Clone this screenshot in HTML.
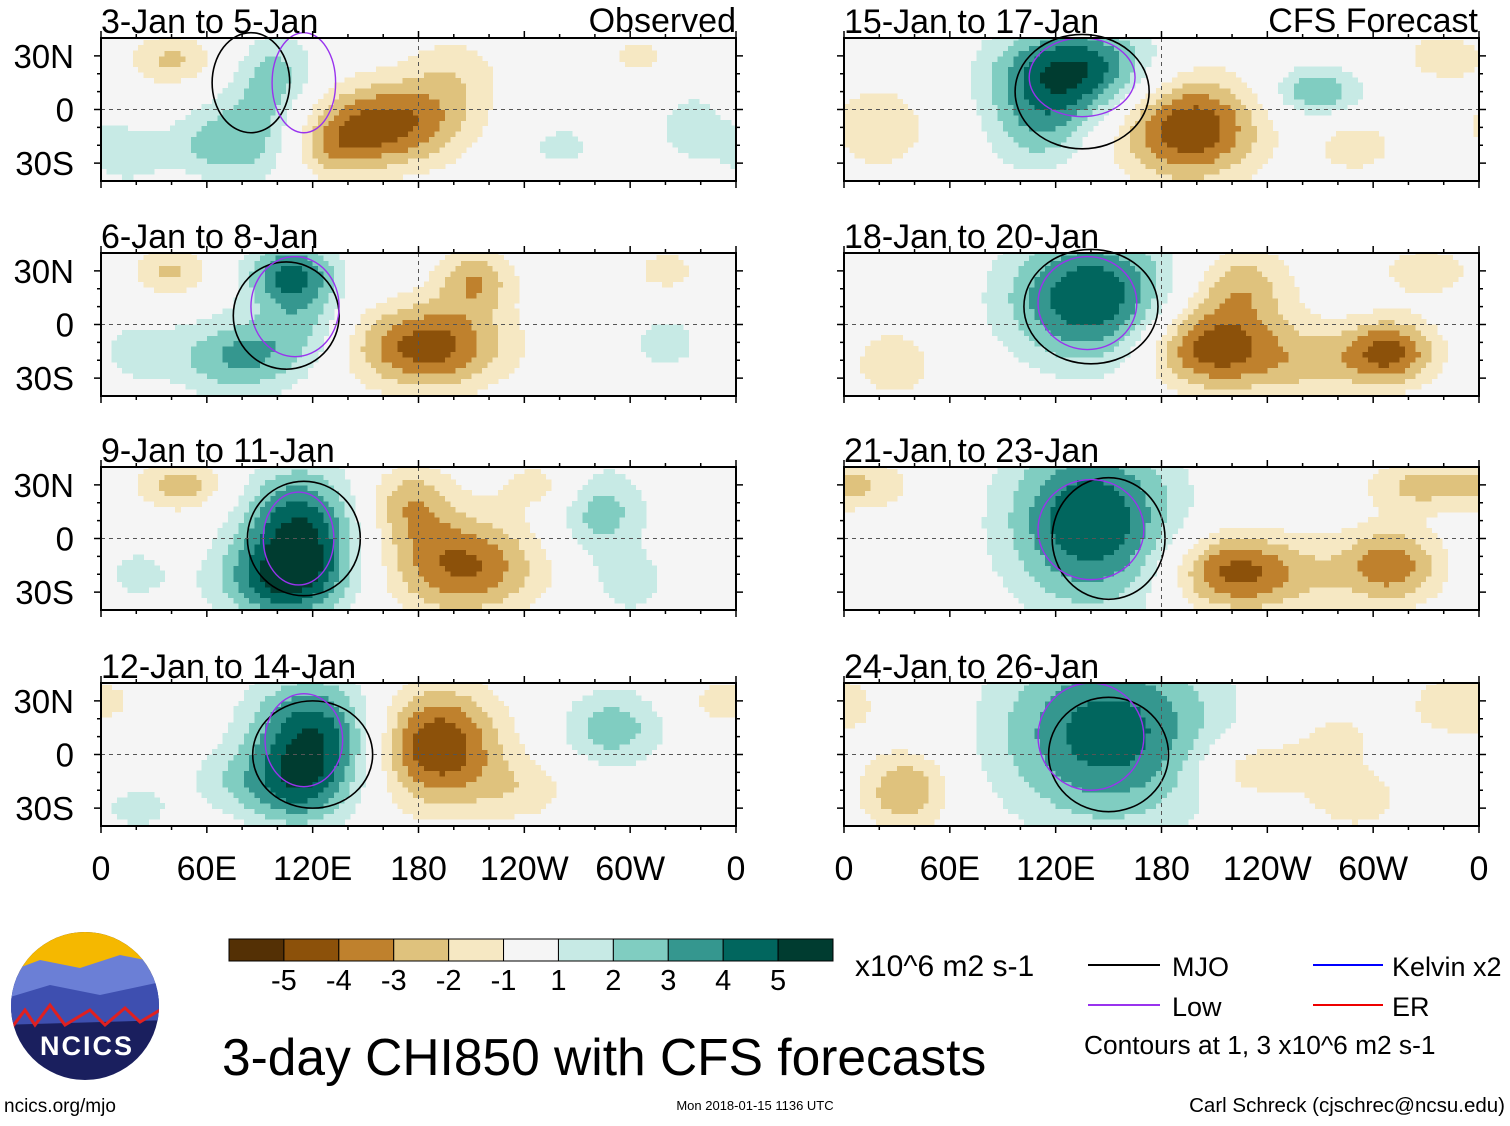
<!DOCTYPE html>
<html><head><meta charset="utf-8"><style>
body{margin:0;background:#fff;width:1510px;height:1121px;overflow:hidden;font-family:"Liberation Sans",sans-serif}
svg text{font-family:"Liberation Sans",sans-serif}
</style></head><body>
<svg id="chart" width="1510" height="1121" viewBox="0 0 1510 1121" xmlns="http://www.w3.org/2000/svg"></svg>
<script>
const panelTitles=["3-Jan to 5-Jan","6-Jan to 8-Jan","9-Jan to 11-Jan","12-Jan to 14-Jan","15-Jan to 17-Jan","18-Jan to 20-Jan","21-Jan to 23-Jan","24-Jan to 26-Jan"];
// blobs: [lonE, lat, amplitude, lonRadius, latRadius]
const blobs0=[[162,-8,-4.4,24,13],[130,-22,-1.8,14,10],[88,-12,2.4,16,16],[100,22,2,12,12],[40,28,-2.2,14,8],[60,-20,1.6,14,10],[15,-25,1.5,12,10],[200,20,-1.5,16,12],[335,-10,1.4,14,14],[305,30,-1.3,12,8],[260,-20,1.2,16,10]];
const blobs1=[[108,28,4.2,14,10],[78,-18,3.2,20,12],[185,-12,-4.6,24,13],[212,25,-2.8,12,10],[40,30,-2.2,12,8],[115,0,1.8,14,12],[320,-10,1.5,12,10],[320,30,-1.4,12,8],[20,-15,1.4,12,10]];
const blobs2=[[112,2,5.2,18,20],[100,-25,3,20,12],[205,-15,-4.2,24,15],[175,20,-2.6,14,12],[283,15,2.6,14,14],[45,30,-2.6,14,8],[300,-25,1.6,12,10],[250,30,-1.5,14,8],[20,-20,1.2,14,12]];
const blobs3=[[120,10,5,20,18],[190,5,-5,20,18],[290,15,2.6,16,12],[110,-20,2.8,16,12],[355,30,-1.6,14,8],[20,-30,1.4,12,8],[240,-20,-1.4,16,10],[70,-15,1.2,14,10]];
const blobs4=[[130,22,5.2,24,14],[195,-10,-5,22,16],[268,10,3,14,8],[110,-10,2.4,16,14],[20,-10,-1.8,16,14],[340,30,-1.6,14,8],[290,-20,-1.5,14,10]];
const blobs5=[[140,15,5,26,20],[205,-12,-4.4,20,13],[225,22,-2.6,16,12],[310,-15,-4,14,10],[28,-22,-2,12,10],[330,30,-1.8,14,8],[260,-20,-2.2,24,12]];
const blobs6=[[140,10,5,26,26],[215,-18,-3.6,18,12],[310,-15,-3.6,16,12],[325,30,-2.2,16,8],[10,30,-2,16,8],[250,-20,-2,20,12]];
const blobs7=[[150,12,4.6,34,28],[35,-20,-3,14,12],[230,-8,-2.2,18,10],[350,28,-2,16,10],[290,-25,-1.6,16,10],[280,10,-1.2,16,10]];
const allBlobs=[blobs0,blobs1,blobs2,blobs3,blobs4,blobs5,blobs6,blobs7];
// MJO contour ellipses per panel: [lonE, lat, lonRadius, latRadius]
const mjo=[[85,15,22,28],[105,5,30,30],[115,0,32,32],[120,0,34,30],[135,10,38,32],[140,10,38,32],[150,0,32,34],[150,0,34,32]];
const lowC=[[115,15,18,28],[110,10,25,28],[112,0,20,26],[115,8,22,26],[135,18,30,22],[138,12,28,26],[140,5,30,28],[140,10,30,30]];
const xTicks=["0","60E","120E","180","120W","60W","0"];
const yTicks=["30N","0","30S"];
const cbLabels=["-5","-4","-3","-2","-1","1","2","3","4","5"];
const cbColors=["#543005","#8c510a","#bf812d","#dfc27d","#f6e8c3","#f5f5f5","#c7eae5","#80cdc1","#35978f","#01665e","#003c30"];

const S=document.getElementById('chart');const NS="http://www.w3.org/2000/svg";
function mk(t,a,p){const e=document.createElementNS(NS,t);for(const k in a)e.setAttribute(k,a[k]);(p||S).appendChild(e);return e;}
const PW=635,PH=143,lefts=[101,844],tops=[38,253,467,683],SPREAD=1.3;
function colorOf(v){let i;if(v<-5)i=0;else if(v<-4)i=1;else if(v<-3)i=2;else if(v<-2)i=3;else if(v<-1)i=4;else if(v<=1)i=5;else if(v<=2)i=6;else if(v<=3)i=7;else if(v<=4)i=8;else if(v<=5)i=9;else i=10;return cbColors[i];}
allBlobs.forEach((bl,p)=>{
  const x0=lefts[Math.floor(p/4)],y0=tops[p%4];
  const xs=lon=>x0+lon/360*PW, ys=lat=>y0+PH/2-lat/40*(PH/2);
  const g=mk('g',{});
  
  
  mk('rect',{x:x0,y:y0,width:PW,height:PH,fill:'#f5f5f5'},g);
  const st=3;
  for(let lon=0;lon<360;lon+=st)for(let lat=-42;lat<42;lat+=st){
    const cl=lon+st/2,ct=lat+st/2;let v=0;
    bl.forEach(b=>{let d=cl-b[0];if(d>180)d-=360;if(d<-180)d+=360;const rx=b[3]*SPREAD,ry=b[4]*SPREAD;v+=b[2]*Math.exp(-(d*d)/(2*rx*rx)-((ct-b[1])**2)/(2*ry*ry));});
    const c=colorOf(v);if(c==="#f5f5f5")continue;
    const yt=Math.max(y0,ys(lat+st)),yb=Math.min(y0+PH,ys(lat));if(yb<=yt)continue;
    const r=mk('rect',{x:xs(lon).toFixed(1),y:yt.toFixed(1),width:(st/360*PW+0.6).toFixed(1),height:(yb-yt+0.6).toFixed(1),fill:c,'shape-rendering':'crispEdges'},g);
    
    
  }
  const m=mjo[p];const e1=mk('ellipse',{cx:xs(m[0]),cy:ys(m[1]),rx:m[2]/360*PW,ry:m[3]/40*PH/2,fill:'none',stroke:'#000','stroke-width':1.6},g);
  
  const l=lowC[p];const e2=mk('ellipse',{cx:xs(l[0]),cy:ys(l[1]),rx:l[2]/360*PW,ry:l[3]/40*PH/2,fill:'none',stroke:'#9933ee','stroke-width':1.4},g);
  
  mk('line',{x1:x0,x2:x0+PW,y1:ys(0),y2:ys(0),stroke:'#555','stroke-dasharray':'4 4'},g);
  mk('line',{x1:xs(180),x2:xs(180),y1:y0,y2:y0+PH,stroke:'#555','stroke-dasharray':'4 4'},g);
  mk('rect',{x:x0,y:y0,width:PW,height:PH,fill:'none',stroke:'#000','stroke-width':2},g);
  for(let lon=0;lon<=360;lon+=20){const L=lon%60==0?7:4;mk('line',{x1:xs(lon),x2:xs(lon),y1:y0,y2:y0-L,stroke:'#000','stroke-width':1.5},g);mk('line',{x1:xs(lon),x2:xs(lon),y1:y0+PH,y2:y0+PH+L,stroke:'#000','stroke-width':1.5},g);}
  for(let lat=-30;lat<=30;lat+=10){const L=lat%30==0?7:4;mk('line',{x1:x0,x2:x0-L,y1:ys(lat),y2:ys(lat),stroke:'#000','stroke-width':1.5},g);mk('line',{x1:x0+PW,x2:x0+PW+L,y1:ys(lat),y2:ys(lat),stroke:'#000','stroke-width':1.5},g);}
  const t=mk('text',{x:x0,y:y0-5,'font-size':34},g);t.textContent=panelTitles[p];
  
  if(p<4){yTicks.forEach((s,i)=>{const tt=mk('text',{x:74,y:ys(30-30*i)+12,'font-size':33,'text-anchor':'end'},g);tt.textContent=s;});}
});
[["Observed",736],["CFS Forecast",1478]].forEach(a=>{const t=mk('text',{x:a[1],y:32,'font-size':34,'text-anchor':'end'});t.textContent=a[0];});
lefts.forEach(x0=>xTicks.forEach((s,i)=>{const t=mk('text',{x:x0+i*60/360*PW,y:880,'font-size':34,'text-anchor':'middle'});t.textContent=s;}));
const cbw=604/11;
cbColors.forEach((c,i)=>{const r=mk('rect',{x:229+i*cbw,y:939,width:cbw,height:22,fill:c,stroke:'#000','stroke-width':1});});
cbLabels.forEach((s,i)=>{const t=mk('text',{x:229+(i+1)*cbw,y:990,'font-size':29,'text-anchor':'middle'});t.textContent=s;});
</script>
<svg style="position:absolute;left:0;top:0" width="1510" height="1121">
 <text x="855" y="976" font-size="30">x10^6 m2 s-1</text>
 <line x1="1088" x2="1160" y1="965" y2="965" stroke="#000" stroke-width="2"/>
 <text x="1172" y="976" font-size="27">MJO</text>
 <line x1="1313" x2="1383" y1="965" y2="965" stroke="#0000ff" stroke-width="2"/>
 <text x="1392" y="976" font-size="27">Kelvin x2</text>
 <line x1="1088" x2="1160" y1="1005" y2="1005" stroke="#9933ee" stroke-width="2"/>
 <text x="1172" y="1016" font-size="27">Low</text>
 <line x1="1313" x2="1383" y1="1005" y2="1005" stroke="#ee0000" stroke-width="2"/>
 <text x="1392" y="1016" font-size="27">ER</text>
 <text x="1084" y="1054" font-size="26.3">Contours at 1, 3 x10^6 m2 s-1</text>
 <text x="222" y="1075" font-size="51.5">3-day CHI850 with CFS forecasts</text>
 <text x="4" y="1112" font-size="19">ncics.org/mjo</text>
 <text x="755" y="1110" font-size="13" text-anchor="middle">Mon 2018-01-15 1136 UTC</text>
 <text x="1505" y="1112" font-size="20.5" text-anchor="end">Carl Schreck (cjschrec@ncsu.edu)</text>
 <g>
  <clipPath id="lc"><circle cx="85" cy="1006" r="74"/></clipPath>
  <g clip-path="url(#lc)">
   <rect x="0" y="930" width="170" height="160" fill="#1a1f5e"/>
   <rect x="0" y="930" width="170" height="45" fill="#f5b800"/>
   <path d="M0 975 L40 960 L80 968 L120 955 L170 965 L170 1000 L0 1010Z" fill="#6b7fd6"/>
   <path d="M0 1000 L50 985 L100 995 L170 980 L170 1020 L0 1025Z" fill="#3e4fb0"/>
   <path d="M10 1030 L25 1010 L35 1025 L50 1005 L65 1025 L90 1010 L105 1025 L125 1008 L140 1022 L160 1010" fill="none" stroke="#e02020" stroke-width="3"/>
  </g>
  <text x="87" y="1055" font-size="27" font-weight="bold" fill="#fff" text-anchor="middle" letter-spacing="2">NCICS</text>
 </g>
</svg>
</body></html>
